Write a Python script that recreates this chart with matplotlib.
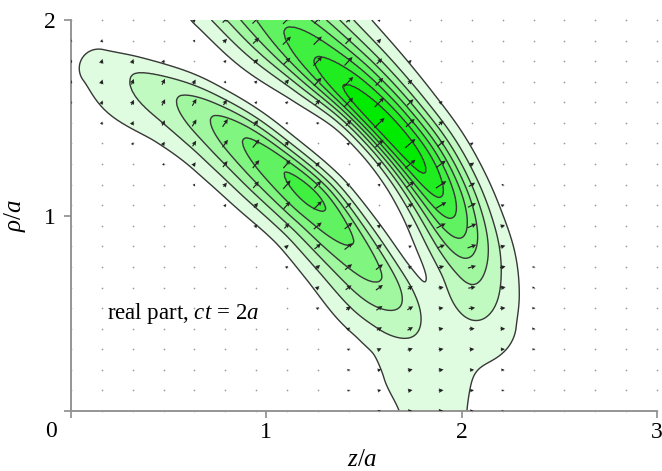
import numpy as np
import matplotlib
matplotlib.use('Agg')
import matplotlib.pyplot as plt

plt.rcParams['font.family'] = ['Liberation Serif', 'DejaVu Serif']
plt.rcParams['mathtext.fontset'] = 'custom'
plt.rcParams['mathtext.rm'] = 'Liberation Serif'
plt.rcParams['mathtext.it'] = 'Liberation Serif:italic'

# ridge lines of the lobes (z/a, rho/a), level of the
# field on the ridge, distance from the ridge to the lowest contour on the
# outer (upper right) and inner (lower left) side
LOW_Z = [0.15, 0.33, 0.56, 0.73, 0.89, 1.05, 1.20, 1.30, 1.44, 1.58, 1.67, 1.74, 1.80]
LOW_R = [1.77, 1.71, 1.60, 1.50, 1.39, 1.26, 1.13, 1.03, 0.86, 0.68, 0.55, 0.42, 0.25]
LOW_A = [1.3, 2.0, 3.0, 4.0, 5.0, 5.8, 6.3, 6.0, 5.0, 4.0, 3.0, 2.0, 1.3]
LOW_DOUT = [0.08, 0.10, 0.14, 0.155, 0.165, 0.17, 0.175, 0.175, 0.17, 0.16, 0.165, 0.17, 0.18]
LOW_DIN = [0.12, 0.235, 0.256, 0.27, 0.29, 0.30, 0.30, 0.30, 0.30, 0.30, 0.27, 0.23, 0.20]

UP_Z = [0.85, 1.05, 1.25, 1.45, 1.62, 1.77, 1.89, 1.98, 2.04, 2.07, 2.08]
UP_R = [2.20, 2.00, 1.80, 1.61, 1.44, 1.27, 1.10, 0.93, 0.76, 0.60, 0.45]
UP_A = [5.0, 5.7, 7.0, 8.3, 8.7, 8.3, 7.0, 5.3, 3.6, 2.6, 1.6]
UP_DOUT = [0.38, 0.37, 0.35, 0.325, 0.30, 0.28, 0.258, 0.242, 0.238, 0.225, 0.20]
UP_DIN = [0.31, 0.30, 0.24, 0.19, 0.185, 0.20, 0.22, 0.235, 0.23, 0.23, 0.20]

# stem on the axis
STEM_Z = [1.865, 1.865, 1.865]
STEM_R = [0.20, 0.0, -0.20]
STEM_A = [1.3, 1.3, 1.3]
STEM_D = [0.155, 0.155, 0.155]

LEVELS = [1, 2, 3, 4, 5, 6, 7, 8, 9]
LIGHT = np.array([0.88, 0.99, 0.88])
GREEN = np.array([0.0, 0.92, 0.0])


def spline(cols, per=12):
    """Catmull-Rom по всем столбцам сразу"""
    P = np.column_stack(cols).astype(float)
    P = np.vstack([2 * P[0] - P[1], P, 2 * P[-1] - P[-2]])
    out = []
    for i in range(1, len(P) - 2):
        p0, p1, p2, p3 = P[i - 1], P[i], P[i + 1], P[i + 2]
        for t in np.linspace(0, 1, per, endpoint=False):
            out.append(0.5 * (2 * p1 + (-p0 + p2) * t + (2 * p0 - 5 * p1 + 4 * p2 - p3) * t**2
                              + (-p0 + 3 * p1 - 3 * p2 + p3) * t**3))
    out.append(P[-2])
    return np.array(out)


def lobe(Z, R, zs, rs, amps, d_out, d_in):
    """Поле одного лепестка вдоль линии гребня"""
    D = spline([zs, rs, amps, d_out, d_in])
    tang = np.gradient(D[:, :2], axis=0)
    tang /= np.hypot(tang[:, 0], tang[:, 1])[:, None]
    val = np.zeros(Z.shape)
    nz = np.zeros(Z.shape)
    nr = np.zeros(Z.shape)
    for k in range(len(D)):
        pz, pr, a, do, di = D[k]
        a = max(a, 1.05)
        k1 = np.sqrt(2 * np.log(a))
        wo, wi = do / k1, di / k1
        cz, cr = -tang[k, 1], tang[k, 0]
        ez, er = Z - pz, R - pr
        dist = np.hypot(ez, er)
        s = (cz * ez + cr * er) / np.maximum(dist, 1e-9)
        w = wi + (wo - wi) * (1 + s) / 2
        f = a * np.exp(-0.5 * (dist / w) ** 2)
        m = f > val
        val = np.where(m, f, val)
        nz = np.where(m, cz, nz)
        nr = np.where(m, cr, nr)
    return val, nz, nr


def field(Z, R, p=4.0):
    parts = [
        lobe(Z, R, LOW_Z, LOW_R, LOW_A, LOW_DOUT, LOW_DIN),
        lobe(Z, R, UP_Z, UP_R, UP_A, UP_DOUT, UP_DIN),
        lobe(Z, R, STEM_Z, STEM_R, STEM_A, STEM_D, STEM_D),
    ]
    wsum = sum(f**p for f, _, _ in parts)
    F = wsum ** (1 / p)
    U = sum(f**p * a for f, a, _ in parts) / np.maximum(wsum, 1e-12)
    V = sum(f**p * b for f, _, b in parts) / np.maximum(wsum, 1e-12)
    n = np.maximum(np.hypot(U, V), 1e-9)
    return F, U / n, V / n


fig = plt.figure(figsize=(6.62, 4.71), dpi=100)
ax = fig.add_axes([71 / 662, 60 / 471, 586 / 662, 391 / 471])

# 1. Заливка и изолинии
z = np.linspace(0, 3, 451)
r = np.linspace(0, 2, 301)
Z, R = np.meshgrid(z, r)
F, _, _ = field(Z, R)
n_fill = len(LEVELS) - 1
colors = [tuple(LIGHT + (GREEN - LIGHT) * k / (n_fill - 1)) for k in range(n_fill)]
ax.contourf(Z, R, F, levels=LEVELS, colors=colors)
ax.contour(Z, R, F, levels=LEVELS[:-1], colors='#383838', linewidths=1.0)

# 2. Стрелки
qz = np.linspace(0, 3, 20)
qr = np.linspace(0, 2, 20)
QZ, QR = np.meshgrid(qz, qr)
QF, QU, QV = field(QZ, QR)
ax.scatter(QZ, QR, s=1.5, color='#9a9a9a', lw=0, clip_on=False, zorder=3)
length = 3.9 * QF**0.6 / 195.5
length = np.where(QF > 0.35, length, 0.0)
show = length > 0
ax.quiver(QZ[show], QR[show], (QU * length)[show], (QV * length)[show],
          angles='xy', scale_units='xy', scale=1, pivot='middle',
          color='#222222', width=0.002, headwidth=4, headlength=4,
          headaxislength=3.5, zorder=4)

ax.set_xlim(0, 3)
ax.set_ylim(0, 2)
for side in ['top', 'right']:
    ax.spines[side].set_visible(False)
for side in ['left', 'bottom']:
    ax.spines[side].set_color('#8c8c8c')
    ax.spines[side].set_linewidth(1.3)
ax.set_xticks([0, 1, 2, 3])
ax.set_xticklabels(['', '1', '2', '3'])
ax.set_yticks([0, 1, 2])
ax.set_yticklabels(['', '1', '2'])
ax.tick_params(direction='out', length=5, width=1.2, color='#8c8c8c',
               labelsize=17, pad=3)
ax.tick_params(axis='y', pad=6)
ax.text(-0.1, -0.107, '0', fontsize=17, ha='center', va='center')

ax.text(0.184, 0.47, r'real part, $ct\,{=}\,2a$', fontsize=16.5, va='baseline')

fig.text(15 / 662, 1 - 215 / 471, r'$\rho/a$', fontsize=18, rotation=90,
         ha='center', va='center')
fig.text(362 / 662, 1 - 460 / 471, r'$z/a$', fontsize=18, ha='center', va='center')

plt.savefig('out.png', dpi=100)
plt.close()
